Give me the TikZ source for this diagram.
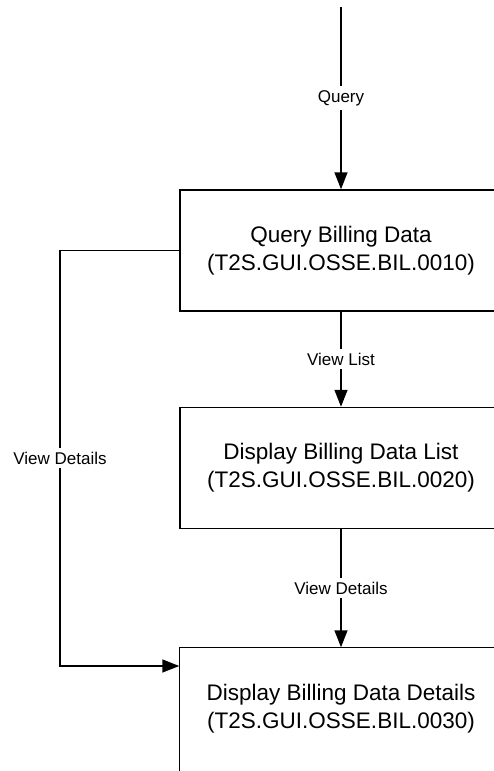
\documentclass[tikz,border=0pt]{standalone}
\usepackage{fontspec}
\setmainfont{Liberation Sans}
\usetikzlibrary{arrows.meta}

\begin{document}
\begin{tikzpicture}[x=1pt,y=-1pt,line width=1.5pt,>={Triangle[length=17pt,width=13pt]},
  step box/.style={draw,rectangle,minimum width=322pt,minimum height=121pt,align=center,
    font=\fontsize{22.5}{28}\selectfont},
  flow label/.style={fill=white,inner sep=4pt,font=\fontsize{17}{20}\selectfont}]
\useasboundingbox (0,0) rectangle (494,771);
\clip (0,0) rectangle (494,771);
% screens
\node[step box] (query) at (341,250.5) {Query Billing Data\\(T2S.GUI.OSSE.BIL.0010)};
\node[step box] (list) at (341,468) {Display Billing Data List\\(T2S.GUI.OSSE.BIL.0020)};
\node[step box,draw=none] (details) at (341,708.5) {Display Billing Data Details\\(T2S.GUI.OSSE.BIL.0030)};
% last box runs off the bottom edge
\draw (details.north west) rectangle ([yshift=-30pt]details.south east);
% entry point
\coordinate (start) at (341,7);
\draw[->] (start) -- node[flow label] {Query} (query);
% main flow
\draw[->] (query) -- node[flow label] {View List} (list);
\draw[->] (list) -- node[flow label] {View Details} (details);
% shortcut on the left
\coordinate (lt) at (60,250.5);
\coordinate (lb) at (60,666);
\draw[->] (query.west) -- (lt) -- node[flow label] {View Details} (lb) -- (lb -| details.west);
\end{tikzpicture}
\end{document}
